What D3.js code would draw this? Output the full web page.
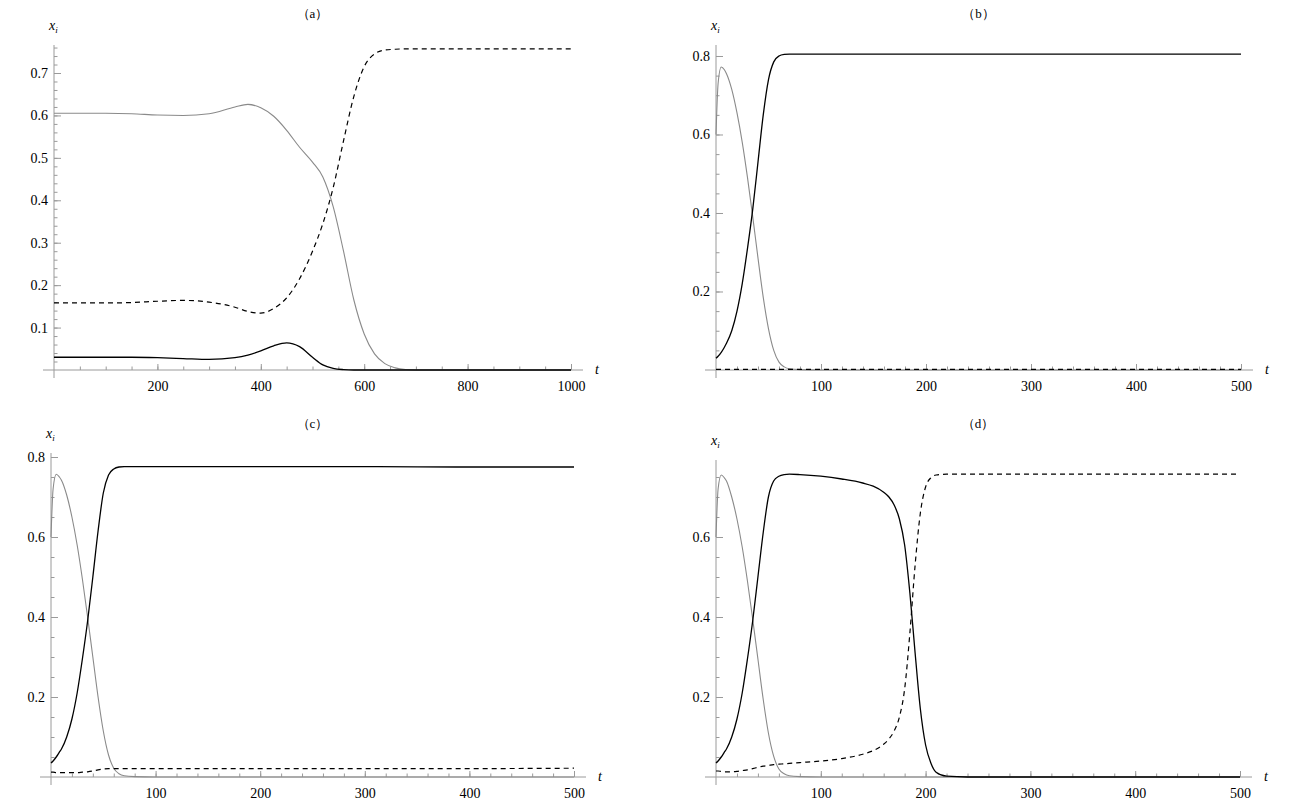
<!DOCTYPE html>
<html>
<head>
<meta charset="utf-8">
<script src="https://cdn.jsdelivr.net/npm/d3@7"></script>
<style>
  body { margin: 0; background: #fff; }
  svg { display: block; }
  .axis .domain { display: none; }
  .axis line { stroke: #9a9a9a; stroke-width: 1; }
</style>
</head>
<body>
<svg id="chart" width="1296" height="804"></svg>
<script>
// panel (a)
var tA = [0, 50, 100, 150, 200, 250, 300, 350, 375, 400, 425, 450, 475, 500, 520, 540, 560, 580, 600, 620, 640, 660, 680, 700, 750, 800, 900, 1000];
var aGray = [.605, .605, .605, .604, .601, .600, .604, .620, .626, .618, .598, .565, .525, .490, .455, .385, .280, .165, .085, .038, .015, .005, .001, 0, 0, 0, 0, 0];
var aDash = [.158, .158, .158, .159, .162, .164, .160, .148, .138, .134, .145, .170, .215, .280, .345, .430, .540, .645, .715, .745, .754, .756, .757, .757, .757, .757, .757, .757];
var aBlack = [.030, .030, .030, .030, .029, .027, .025, .029, .035, .045, .057, .064, .055, .030, .012, .004, .001, 0, 0, 0, 0, 0, 0, 0, 0, 0, 0, 0];

// panel (b)
var tB = [0, 2, 5, 8, 10, 15, 20, 25, 30, 35, 40, 45, 50, 55, 60, 65, 70, 80, 100, 150, 200, 300, 400, 500];
var bGray = [.60, .73, .772, .765, .755, .715, .655, .58, .49, .39, .285, .185, .105, .05, .02, .008, .003, .001, 0, 0, 0, 0, 0, 0];
var bBlack = [.03, .035, .045, .058, .068, .10, .15, .22, .31, .41, .53, .65, .74, .785, .80, .804, .805, .805, .805, .805, .805, .805, .805, .805];
var bDash = [.0015, .0015, .0015, .0015, .0015, .0015, .0015, .0015, .0015, .0015, .0015, .0015, .0015, .0015, .0015, .0015, .0015, .0015, .0015, .0015, .0015, .0015, .0015, .0015];

// panel (c)
var tC = [0, 2, 5, 8, 10, 15, 20, 25, 30, 35, 40, 45, 50, 55, 60, 65, 70, 80, 100, 150, 200, 300, 400, 500];
var cGray = [.60, .72, .757, .75, .742, .705, .65, .58, .495, .40, .30, .20, .115, .055, .022, .008, .003, .001, 0, 0, 0, 0, 0, 0];
var cBlack = [.035, .04, .05, .062, .07, .10, .145, .21, .295, .39, .50, .615, .71, .755, .77, .775, .776, .776, .776, .776, .776, .776, .775, .775];
var cDash = [.012, .012, .011, .011, .011, .011, .011, .011, .012, .013, .015, .018, .020, .021, .021, .021, .021, .021, .021, .021, .021, .021, .021, .022];

// panel (d)
var tD = [0, 2, 5, 8, 10, 15, 20, 25, 30, 35, 40, 45, 50, 55, 60, 65, 70, 80, 100, 120, 140, 150, 160, 165, 170, 175, 180, 185, 190, 195, 200, 205, 210, 220, 240, 300, 400, 500];
var dGray = [.60, .72, .755, .748, .74, .70, .645, .575, .49, .395, .295, .195, .11, .052, .02, .008, .003, .001, 0, 0, 0, 0, 0, 0, 0, 0, 0, 0, 0, 0, 0, 0, 0, 0, 0, 0, 0, 0];
var dBlack = [.035, .04, .05, .062, .07, .10, .145, .21, .295, .39, .50, .61, .70, .74, .752, .756, .757, .756, .752, .745, .735, .727, .712, .70, .68, .645, .58, .46, .31, .17, .08, .035, .012, .002, 0, 0, 0, 0];
var dDash = [.015, .015, .014, .013, .013, .013, .014, .016, .018, .021, .024, .027, .029, .031, .032, .033, .034, .036, .040, .046, .057, .066, .082, .095, .115, .15, .22, .36, .53, .66, .725, .748, .755, .757, .757, .757, .757, .757];

// tick labels
var xTicksA = [200, 400, 600, 800, 1000];
var yTicksA = [0.1, 0.2, 0.3, 0.4, 0.5, 0.6, 0.7];
var xTicksB = [100, 200, 300, 400, 500];
var yTicksB = [0.2, 0.4, 0.6, 0.8];
var yTicksD = [0.2, 0.4, 0.6];

var serif = "'Liberation Serif', 'Times New Roman', serif";
var svg = d3.select('#chart');

function drawPanel(p) {
    var x = d3.scaleLinear().domain([0, p.tMax]).range([p.x0, p.x1]);
    var y = d3.scaleLinear().domain([0, p.yMax]).range([p.yBase, p.yTop]);
    var g = svg.append("g");

    // axis lines
    g.append("line")
        .attr("x1", p.x0 - 11).attr("x2", p.x1 + 12)
        .attr("y1", p.yBase).attr("y2", p.yBase)
        .attr("stroke", "#9a9a9a");
    g.append("line")
        .attr("x1", p.x0).attr("x2", p.x0)
        .attr("y1", p.yTop).attr("y2", p.yBase + 8)
        .attr("stroke", "#9a9a9a");

    // x axis, ticks pointing up
    g.append("g")
        .attr("class", "axis")
        .attr("transform", "translate(0," + p.yBase + ")")
        .call(d3.axisBottom(x).tickValues(d3.range(p.xMinor, p.tMax + 0.001, p.xMinor))
            .tickSizeInner(-3.5).tickSizeOuter(0).tickFormat(""));
    g.append("g")
        .attr("class", "axis")
        .attr("transform", "translate(0," + p.yBase + ")")
        .call(d3.axisBottom(x).tickValues(p.xTicks)
            .tickSizeInner(-6).tickSizeOuter(0).tickPadding(11).tickFormat(d3.format("d")));

    // y axis, ticks pointing right
    g.append("g")
        .attr("class", "axis")
        .attr("transform", "translate(" + p.x0 + ",0)")
        .call(d3.axisLeft(y).tickValues(d3.range(p.yMinor, p.yMax, p.yMinor))
            .tickSizeInner(-3.5).tickSizeOuter(0).tickFormat(""));
    g.append("g")
        .attr("class", "axis")
        .attr("transform", "translate(" + p.x0 + ",0)")
        .call(d3.axisLeft(y).tickValues(p.yTicks)
            .tickSizeInner(-7).tickSizeOuter(0).tickPadding(6).tickFormat(d3.format(".1f")));

    g.selectAll(".axis text")
        .attr("font-family", null)
        .style("font-family", serif)
        .style("font-size", "14px")
        .attr("fill", "#000");

    var line = d3.line()
        .x(function(d) { return x(d[0]); })
        .y(function(d) { return y(d[1]); })
        .curve(d3.curveMonotoneX);

    var series = [
        {v: p.gray, color: "#8a8a8a", width: 1.1, dash: null},
        {v: p.dash, color: "#000", width: 1.2, dash: "5,4"},
        {v: p.black, color: "#000", width: 1.3, dash: null}
    ];
    series.forEach(function(s) {
        g.append("path")
            .datum(p.t.map(function(t, i) { return [t, s.v[i]]; }))
            .attr("d", line)
            .attr("fill", "none")
            .attr("stroke", s.color)
            .attr("stroke-width", s.width)
            .attr("stroke-dasharray", s.dash);
    });

    // labels
    g.append("text")
        .attr("x", (p.x0 + p.x1) / 2)
        .attr("y", p.titleY)
        .attr("text-anchor", "middle")
        .style("font-family", serif)
        .style("font-size", "13px")
        .text(p.title);

    var xi = g.append("text")
        .attr("x", p.x0 - 5)
        .attr("y", p.yTop - 15)
        .style("font-family", serif)
        .style("font-size", "14px")
        .style("font-style", "italic");
    xi.append("tspan").text("x");
    xi.append("tspan").attr("dy", 3).style("font-size", "9px").text("i");

    g.append("text")
        .attr("x", p.x1 + 24)
        .attr("y", p.yBase + 4)
        .style("font-family", serif)
        .style("font-size", "14px")
        .style("font-style", "italic")
        .text("t");
}

drawPanel({title: "（a）", titleY: 18, t: tA, gray: aGray, dash: aDash, black: aBlack,
    tMax: 1000, x0: 54, x1: 571, yBase: 370, yTop: 45, yMax: 0.766,
    xTicks: xTicksA, xMinor: 50, yTicks: yTicksA, yMinor: 0.02});
drawPanel({title: "（b）", titleY: 18, t: tB, gray: bGray, dash: bDash, black: bBlack,
    tMax: 500, x0: 716, x1: 1241, yBase: 370, yTop: 45, yMax: 0.828,
    xTicks: xTicksB, xMinor: 20, yTicks: yTicksB, yMinor: 0.05});
drawPanel({title: "（c）", titleY: 428, t: tC, gray: cGray, dash: cDash, black: cBlack,
    tMax: 500, x0: 51, x1: 574, yBase: 777, yTop: 453, yMax: 0.81,
    xTicks: xTicksB, xMinor: 20, yTicks: yTicksB, yMinor: 0.05});
drawPanel({title: "（d）", titleY: 428, t: tD, gray: dGray, dash: dDash, black: dBlack,
    tMax: 500, x0: 716, x1: 1240, yBase: 777, yTop: 460, yMax: 0.7925,
    xTicks: xTicksB, xMinor: 20, yTicks: yTicksD, yMinor: 0.05});
</script>
</body>
</html>
